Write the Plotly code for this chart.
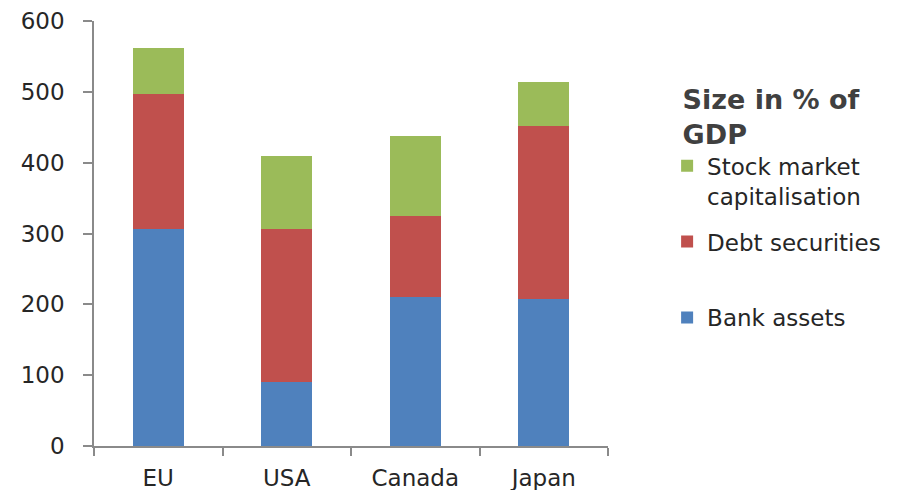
import plotly.graph_objects as go

categories = ["EU", "USA", "Canada", "Japan"]
bank_assets = [307, 91, 210, 207]
debt_securities = [190, 216, 115, 245]
stock_market = [65, 103, 112, 62]

series_names = ["Bank assets", "Debt securities<br> ", "Stock market<br>capitalisation"]
series_values = [bank_assets, debt_securities, stock_market]
series_colors = ["#4F81BD", "#C0504D", "#9BBB59"]
legend_ranks = [3, 2, 1]

fig = go.Figure()
for name, vals, col, rank in zip(series_names, series_values, series_colors, legend_ranks):
    fig.add_trace(go.Bar(
        x=categories, y=vals, name=name, legendgroup=name, legendrank=rank,
        marker=dict(color=col, line=dict(width=0)),
    ))

axis_col = "#8A8A8A"
fig.update_layout(
    barmode="stack",
    bargap=0.6,
    width=908, height=490,
    margin=dict(l=94, r=300, t=21, b=44),
    plot_bgcolor="white", paper_bgcolor="white",
    font=dict(family="DejaVu Sans", color="#262626"),
    showlegend=True,
    legend=dict(
        x=1.115, xanchor="left", y=0.875, yanchor="top",
        traceorder="grouped",
        valign="top",
        tracegroupgap=13,
        font=dict(family="DejaVu Sans", size=23, color="#262626"),
        title=dict(text="<b>&#8194;Size in % of<br>&#8194;GDP</b>",
                   font=dict(family="DejaVu Sans", size=27, color="#404040")),
        bgcolor="rgba(0,0,0,0)",
    ),
    xaxis=dict(
        showline=True, linecolor=axis_col, linewidth=1.5,
        ticks="outside", tickson="boundaries", ticklen=8, tickcolor=axis_col, tickwidth=1.5,
        tickfont=dict(size=23, color="#262626"),
        ticklabelstandoff=11,
        showgrid=False, automargin=False,
    ),
    yaxis=dict(
        range=[0, 600], dtick=100,
        showline=True, linecolor=axis_col, linewidth=1.5,
        ticks="outside", ticklen=9, tickcolor=axis_col, tickwidth=1.5,
        tickfont=dict(size=23, color="#262626"),
        ticklabelstandoff=14,
        showgrid=False, zeroline=False, automargin=False,
    ),
)

fig.write_html("out.html")
